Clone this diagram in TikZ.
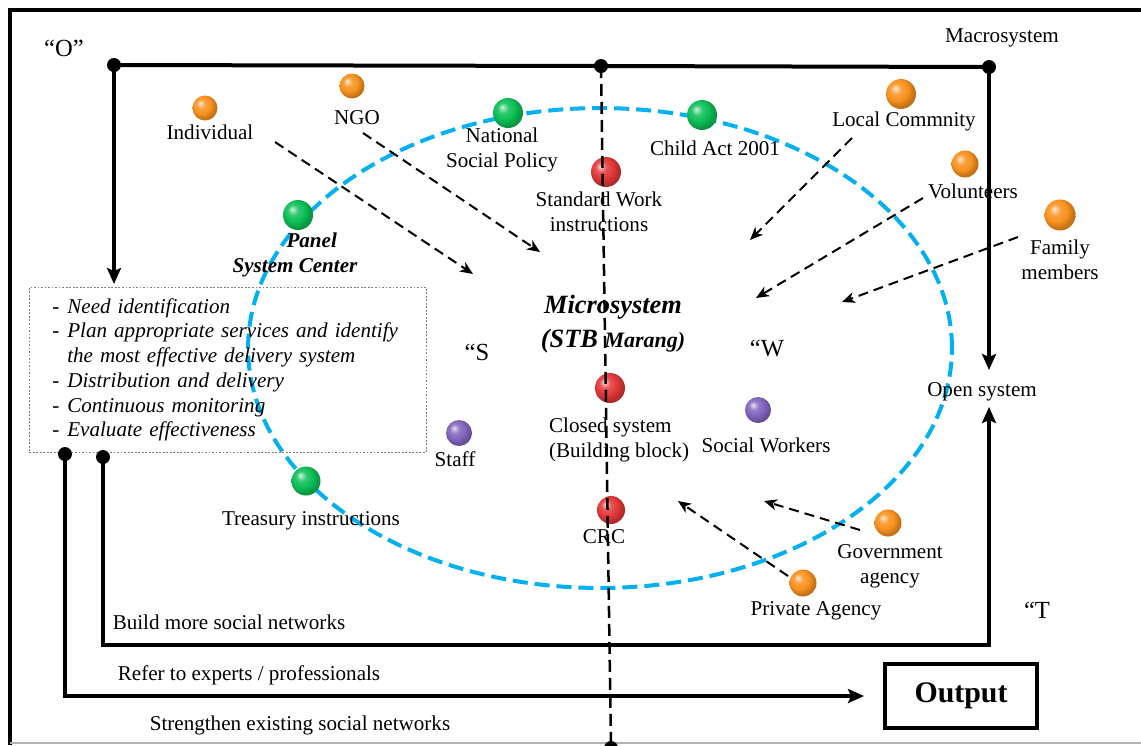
\documentclass[tikz,border=0pt]{standalone}
\usepackage{fontspec}
\setmainfont{Liberation Serif}
\usepackage{xcolor}
\usetikzlibrary{arrows.meta,positioning}

\definecolor{ballorange}{RGB}{248,145,30}
\definecolor{ballgreen}{RGB}{10,190,85}
\definecolor{ballred}{RGB}{225,55,55}
\definecolor{ballpurple}{RGB}{130,100,190}
\definecolor{ringblue}{RGB}{0,176,240}

% softer sphere than the built-in ball shading
\makeatletter
\pgfdeclareradialshading[tikz@ball]{softball}{\pgfqpoint{-10bp}{10bp}}{%
  color(0bp)=(tikz@ball!20!white);
  color(9bp)=(tikz@ball!85!white);
  color(18bp)=(tikz@ball);
  color(25bp)=(tikz@ball!82!black);
  color(50bp)=(tikz@ball!50!black)}
\makeatother

\begin{document}
\begin{tikzpicture}[x=0.02cm, y=-0.02cm,
      ball_o/.style={
         circle,
         ball color=ballorange,
         shading=softball,
         inner sep=0pt,
         minimum size=0.54cm},
      ball_g/.style={
         ball_o,
         ball color=ballgreen,
         shading=softball,
         minimum size=0.6cm},
      ball_r/.style={
         ball_o,
         ball color=ballred,
         shading=softball,
         minimum size=0.6cm},
      ball_p/.style={
         ball_o,
         ball color=ballpurple,
         shading=softball,
         minimum size=0.52cm},
      lbl/.style={
         font=\fontsize{12}{14.2}\selectfont,
         inner sep=1pt,
         align=center},
      lbl_bi/.style={
         lbl,
         font=\fontsize{12}{14.2}\selectfont\bfseries\itshape},
      quote_lbl/.style={
         lbl,
         font=\fontsize{14}{16}\selectfont},
      dot/.style={
         circle,
         fill=black,
         inner sep=0pt,
         minimum size=0.28cm},
      frame_line/.style={
         line width=0.09cm,
         line join=miter},
      line_thick/.style={
         line width=0.08cm,
         line join=miter},
      arrow_thick/.style={
         line_thick,
         -{Stealth[length=0.32cm,width=0.28cm,inset=0.06cm]}},
      arrow_dash/.style={
         -{Stealth[length=0.26cm,width=0.22cm,inset=0.08cm]},
         line width=0.04cm,
         dash pattern=on 0.2cm off 0.12cm},
      dash_mid/.style={
         line width=0.05cm,
         dash pattern=on 0.24cm off 0.12cm},
      ring/.style={
         draw=ringblue,
         line width=0.08cm,
         dash pattern=on 0.3cm off 0.14cm},
      list_box/.style={
         draw=gray,
         line width=0.4pt,
         dash pattern=on 1pt off 1pt,
         align=left,
         text width=7.02cm,
         inner xsep=0.46cm,
         inner ysep=0.2cm,
         minimum height=3.3cm,
         font=\fontsize{12}{14.1}\selectfont\itshape},
      out_box/.style={
         draw,
         line width=0.08cm,
         minimum width=3.04cm,
         minimum height=1.28cm,
         font=\fontsize{17}{20}\selectfont\bfseries}
]
      \useasboundingbox (0,0) rectangle (1141,745);

      %outer frame
      \draw[frame_line] (10,745) -- (10,10) -- (1141,10);
      \draw[gray!60, line width=0.03cm] (10,743) -- (1141,743);

      %microsystem ring
      \draw[ring] (600,348) ellipse [x radius=7.04cm, y radius=4.8cm];

      %process list
      \node[list_box, anchor=north west] (tasks) at (29,287) {%
         \makebox[0.3cm][l]{-}Need identification\\
         \makebox[0.3cm][l]{-}Plan appropriate services and identify\\
         \hspace*{0.3cm}the most effective delivery system\\
         \makebox[0.3cm][l]{-}Distribution and delivery\\
         \makebox[0.3cm][l]{-}Continuous monitoring\\
         \makebox[0.3cm][l]{-}Evaluate effectiveness};

      %junction dots
      \node[dot] (dot_o) at (114,65) {};
      \node[dot] (dot_m) at (601,66) {};
      \node[dot] (dot_r) at (989,67) {};
      \node[dot] (dot_a) at (65,454) {};
      \node[dot] (dot_b) at (103,457) {};
      \node[dot] (dot_bot) at (611,748) {};

      %elements
      \node[ball_o, minimum size=0.5cm] (ind) at (205,108) {};
      \node[ball_o, minimum size=0.5cm] (ngo) at (352,86) {};
      \node[ball_g] (nsp) at (508,113) {};
      \node[ball_g] (cact) at (702,115) {};
      \node[ball_r] (swi) at (606,172) {};
      \node[ball_o, minimum size=0.6cm] (lcom) at (901,94) {};
      \node[ball_o] (vol) at (965,164) {};
      \node[ball_o, minimum size=0.62cm] (fam) at (1060,215) {};
      \node[ball_g] (psc) at (298,215) {};
      \node[ball_r] (csys) at (610,388) {};
      \node[ball_p] (staff) at (459,433) {};
      \node[ball_p] (sw) at (758,410) {};
      \node[ball_g, minimum size=0.58cm] (tre) at (306,481) {};
      \node[ball_r, minimum size=0.56cm] (crc) at (611,510) {};
      \node[ball_o] (gov) at (888,523) {};
      \node[ball_o] (priv) at (803,583) {};

      %labels
      \node[quote_lbl] (q_o) at (64,48) {“O”};
      \node[lbl] (macro) at (1002,38) {Macrosystem};
      \node[lbl] (l_ind) at (210,132) {Individual};
      \node[lbl] (l_ngo) at (357,118) {NGO};
      \node[lbl] (l_nsp) at (502,150) {National\\Social Policy};
      \node[lbl] (l_cact) at (715,148) {Child Act 2001};
      \node[lbl] (l_swi) at (599,212) {Standard Work\\instructions};
      \node[lbl] (l_lcom) at (904,121) {Local Commnity};
      \node[lbl] (l_vol) at (973,191) {Volunteers};
      \node[lbl] (l_fam) at (1060,260) {Family\\members};
      \node[lbl_bi] (l_psc) at (295,255) {\hspace*{19pt}Panel\\System Center};
      \node[lbl, font=\fontsize{15}{19}\selectfont\bfseries\itshape] (micro) at (613,324)
         {Microsystem\\(STB {\fontsize{12.5}{19}\selectfont Marang)}};
      \node[quote_lbl] (q_s) at (477,352) {“S};
      \node[quote_lbl] (q_w) at (767,348) {“W};
      \node[quote_lbl] (q_t) at (1037,610) {“T};
      \node[lbl, align=left, anchor=west] (l_csys) at (547,440) {Closed system\\(Building block)};
      \node[lbl] (l_staff) at (455,459) {Staff};
      \node[lbl] (l_sw) at (766,445) {Social Workers};
      \node[lbl] (l_tre) at (311,521) {Treasury instructions};
      \node[lbl] (l_crc) at (604,537) {CRC};
      \node[lbl] (l_gov) at (890,566) {Government\\agency};
      \node[lbl] (l_priv) at (816,611) {Private Agency};
      \node[lbl] (open) at (982,392) {Open system};
      \node[lbl] (l_build) at (229,622) {Build more social networks};
      \node[lbl] (l_refer) at (249,675) {Refer to experts / professionals};
      \node[lbl] (l_strength) at (300,725) {Strengthen existing social networks};

      \node[out_box] (output) at (961,696) {Output};

      %free ends
      \coordinate (box_in) at (114,284);
      \coordinate (open_in) at (989,370);
      \coordinate (open_up) at (989,407);
      \coordinate (sys_corner) at (989,645);

      %flows
      \draw[line_thick] (dot_o.center) -- (dot_m.center) -- (dot_r.center);
      \draw[arrow_thick] (dot_o.center) -- (box_in);
      \draw[arrow_thick] (dot_r.center) -- (open_in);
      \draw[arrow_thick] (dot_b.center) |- (sys_corner) -- (open_up);
      \draw[arrow_thick] (dot_a.center) |- ([xshift=-0.38cm]output.west);
      \draw[dash_mid] (dot_m.center) -- (dot_bot.center);

      %influences
      \coordinate (ind_a) at (275,142);  \coordinate (ind_b) at (473,274);
      \coordinate (ngo_a) at (363,133);  \coordinate (ngo_b) at (540,252);
      \coordinate (lcom_a) at (852,138); \coordinate (lcom_b) at (750,240);
      \coordinate (vol_a) at (923,198);  \coordinate (vol_b) at (756,298);
      \coordinate (fam_a) at (1018,237); \coordinate (fam_b) at (842,302);
      \coordinate (gov_a) at (860,530);  \coordinate (gov_b) at (764,501);
      \coordinate (priv_a) at (788,576); \coordinate (priv_b) at (678,501);

      \foreach \i/\j in {ind_a/ind_b, ngo_a/ngo_b, lcom_a/lcom_b, vol_a/vol_b,
                         fam_a/fam_b, gov_a/gov_b, priv_a/priv_b}
        \draw[arrow_dash] (\i) -- (\j);

\end{tikzpicture}
\end{document}
